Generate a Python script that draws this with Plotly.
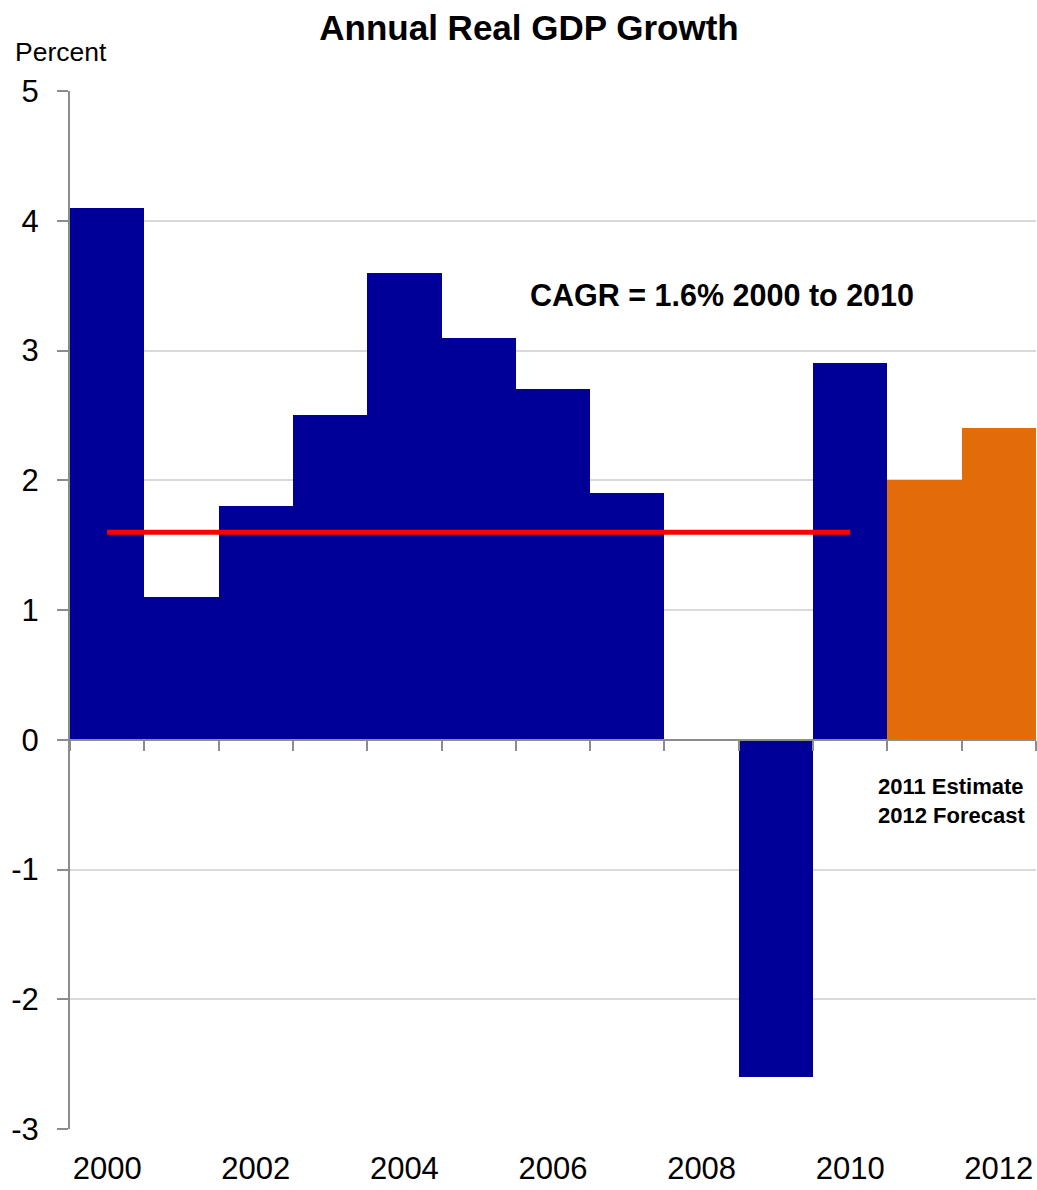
import plotly.graph_objects as go

# Annual real GDP growth, percent
years = [2000, 2001, 2002, 2003, 2004, 2005, 2006, 2007, 2008, 2009, 2010, 2011, 2012]
growth = [4.1, 1.1, 1.8, 2.5, 3.6, 3.1, 2.7, 1.9, 0.0, -2.6, 2.9, 2.0, 2.4]
# 2011 is an estimate and 2012 a forecast
projected_years = [2011, 2012]

cagr_value = 1.6
cagr_start, cagr_end = 2000, 2010

y_ticks = [5, 4, 3, 2, 1, 0, -1, -2, -3]
x_label_years = [2000, 2002, 2004, 2006, 2008, 2010, 2012]

BLUE = "#000099"
ORANGE = "#E36C0A"
FONT = "Liberation Sans Narrow, Arial Narrow, Liberation Sans, Arial, sans-serif"

colors = [ORANGE if y in projected_years else BLUE for y in years]

fig = go.Figure()

fig.add_trace(go.Bar(
    x=years, y=growth, width=1.0,
    marker=dict(color=colors, line=dict(width=0)),
    showlegend=False, hoverinfo="x+y",
))

fig.add_trace(go.Scatter(
    x=[cagr_start, cagr_end], y=[cagr_value, cagr_value],
    mode="lines", line=dict(color="#FF0000", width=5),
    showlegend=False, hoverinfo="skip",
))

# invisible trace that carries the category-boundary ticks on the zero line
fig.add_trace(go.Scatter(
    x=[years[0]], y=[0], xaxis="x2", yaxis="y",
    mode="markers", marker=dict(opacity=0), showlegend=False, hoverinfo="skip",
))

x_range = [years[0] - 0.5, years[-1] + 0.5]
boundaries = [y - 0.5 for y in years] + [years[-1] + 0.5]

fig.update_layout(
    width=1037, height=1190,
    margin=dict(l=70, r=1, t=91, b=61),
    paper_bgcolor="white", plot_bgcolor="white",
    font=dict(family=FONT, color="black"),
    bargap=0,
    xaxis=dict(
        range=x_range,
        tickmode="array", tickvals=x_label_years,
        ticktext=[str(v) for v in x_label_years],
        tickfont=dict(size=31, family=FONT),
        showgrid=False, showline=False, zeroline=False,
        ticks="", ticklabelstandoff=18,
        fixedrange=True,
    ),
    xaxis2=dict(
        range=x_range, overlaying="x", anchor="free",
        position=3 / 8,
        tickmode="array", tickvals=boundaries,
        showticklabels=False,
        ticks="outside", ticklen=10, tickwidth=2, tickcolor="#8C8C8C",
        showline=True, linecolor="#8C8C8C", linewidth=2,
        showgrid=False, zeroline=False,
    ),
    yaxis=dict(
        range=[-3, 5],
        tickmode="array", tickvals=y_ticks,
        ticktext=[str(v) for v in y_ticks],
        tickfont=dict(size=31, family=FONT),
        showgrid=True, gridcolor="#D9D9D9", gridwidth=2,
        zeroline=False,
        showline=True, linecolor="#8C8C8C", linewidth=2,
        ticks="outside", ticklen=11, tickwidth=2, tickcolor="#8C8C8C",
        ticklabelstandoff=12,
        fixedrange=True,
    ),
    title=dict(
        text="<b>Annual Real GDP Growth</b>",
        font=dict(size=35, family=FONT, color="black"),
        x=529 / 1037, xanchor="center",
        y=1 - 28 / 1190, yanchor="middle", yref="container",
    ),
    annotations=[
        dict(text="Percent", xref="paper", yref="paper",
             x=-57 / 966, y=1 + 39 / 1038, xanchor="left", yanchor="middle",
             showarrow=False, font=dict(size=26.5, family=FONT)),
        dict(text=f"<b>CAGR = {cagr_value}% {cagr_start} to {cagr_end}</b>",
             xref="x", yref="y", x=2008.27, y=3.43,
             xanchor="center", yanchor="middle",
             showarrow=False, font=dict(size=30.5, family=FONT)),
        dict(text="<b>2011 Estimate<br>2012 Forecast</b>",
             xref="x", yref="y", x=2012.38, y=-0.47,
             xanchor="right", yanchor="middle", align="left",
             showarrow=False, font=dict(size=22, family=FONT)),
    ],
)

fig.write_html("out.html")
